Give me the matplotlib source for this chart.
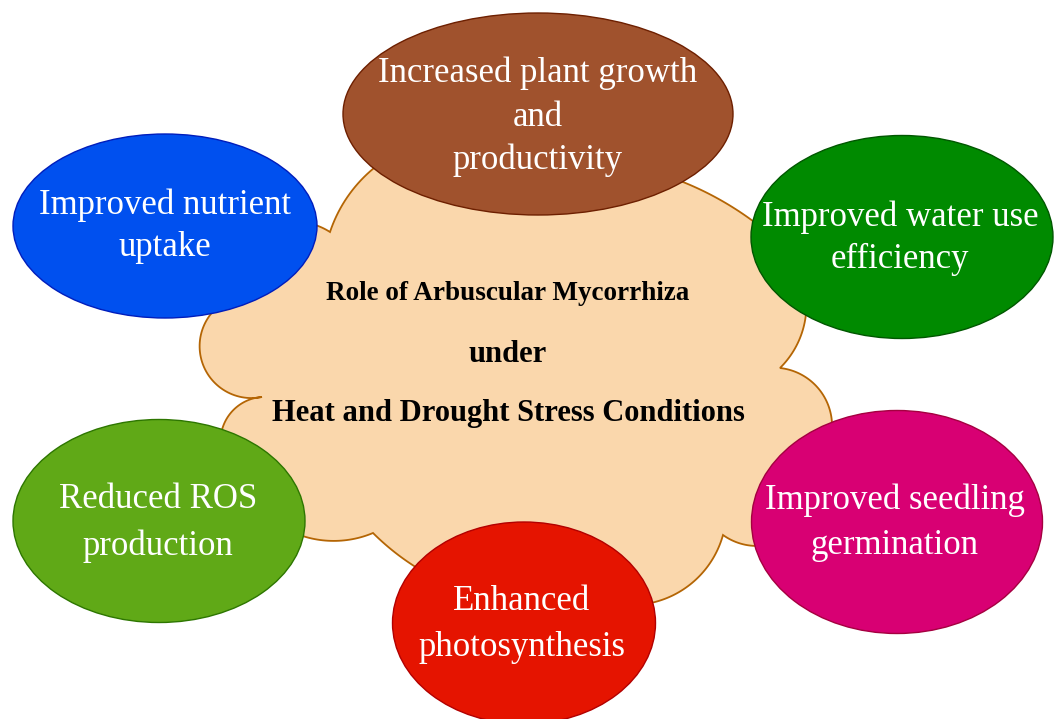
import numpy as np
import matplotlib
matplotlib.use("Agg")
import matplotlib.pyplot as plt
from matplotlib.patches import Ellipse, Polygon

# ---- content ----
title_lines = ["Role of Arbuscular Mycorrhiza", "under", "Heat and Drought Stress Conditions"]
labels = [
    ["Increased plant growth", "and", "productivity"],
    ["Improved nutrient", "uptake"],
    ["Improved water use", "efficiency"],
    ["Reduced ROS", "production"],
    ["Enhanced", "photosynthesis"],
    ["Improved seedling", "germination"],
]
fills = ["#a0522d", "#0050ef", "#008a00", "#60a917", "#e51400", "#d80073"]
edges = ["#6d1f00", "#001dbc", "#005700", "#2d7600", "#b20000", "#a50040"]

# ---- layout (pixel coordinates, y downward) ----
W, H = 1054, 719
ell_center = [(538, 114), (165, 226), (902, 237), (159, 521), (524, 623), (897, 522)]
ell_size = [(390, 202), (304, 184), (302, 203), (292, 203), (263, 202), (291, 223)]
line_y = [[73, 117, 160], [205, 248], [217, 259], [500, 546], [602, 647], [500, 546]]
label_x = [538, 165, 900, 158, 522, 895]

# cloud cusps (clockwise on screen) and outward bulge of each lobe
cusps = [(330, 232), (540, 160), (762, 228), (780, 368), (812, 470), (723, 535),
         (600, 600), (373, 533), (240, 478), (262, 397), (228, 300)]
bulge = [55, 22, 35, 35, 40, 30, 30, 30, 30, 45, 40]
cloud_center = np.array([515, 380])

fig = plt.figure(figsize=(W / 100, H / 100), dpi=100)
ax = fig.add_axes([0, 0, 1, 1])
ax.set_xlim(0, W)
ax.set_ylim(H, 0)
ax.axis("off")


def arc_points(A, B, s, n_pts=60):
    A = np.array(A, float); B = np.array(B, float)
    M = (A + B) / 2
    d = B - A
    c = np.hypot(*d)
    n = np.array([-d[1], d[0]]) / c
    if np.dot(n, M - cloud_center) < 0:
        n = -n
    R = (c * c / 4 + s * s) / (2 * s)
    C = M + n * (s - R)
    a0 = np.arctan2(*(A - C)[::-1])
    a1 = np.arctan2(*(B - C)[::-1])
    am = np.arctan2(*((M + n * s) - C)[::-1])
    d1 = (a1 - a0) % (2 * np.pi)
    dm = (am - a0) % (2 * np.pi)
    if dm <= d1:
        t = a0 + np.linspace(0, d1, n_pts)
    else:
        t = a0 - np.linspace(0, (a0 - a1) % (2 * np.pi), n_pts)
    return np.column_stack([C[0] + R * np.cos(t), C[1] + R * np.sin(t)])


pts = []
for i in range(len(cusps)):
    A = cusps[i]; B = cusps[(i + 1) % len(cusps)]
    pts.append(arc_points(A, B, bulge[i])[:-1])
pts = np.vstack(pts)
ax.add_patch(Polygon(pts, closed=True, facecolor="#fad7ac", edgecolor="#b46504",
                     linewidth=1.3, zorder=1))

for (cx, cy), (w, h), fc, ec in zip(ell_center, ell_size, fills, edges):
    ax.add_patch(Ellipse((cx, cy), w, h, facecolor=fc, edgecolor=ec, linewidth=1.0, zorder=2))

for lines, ys, x in zip(labels, line_y, label_x):
    for t, y in zip(lines, ys):
        ax.text(x, y, t, color="white", fontsize=25, family="Liberation Serif",
                ha="center", va="center", zorder=3)

title_y = [293, 354, 413]
title_fs = [19.5, 22, 22]
for t, y, fs in zip(title_lines, title_y, title_fs):
    ax.text(508, y, t, color="black", fontsize=fs, family="Liberation Serif",
            fontweight="bold", ha="center", va="center", zorder=3)

fig.savefig("out.png", dpi=100)
